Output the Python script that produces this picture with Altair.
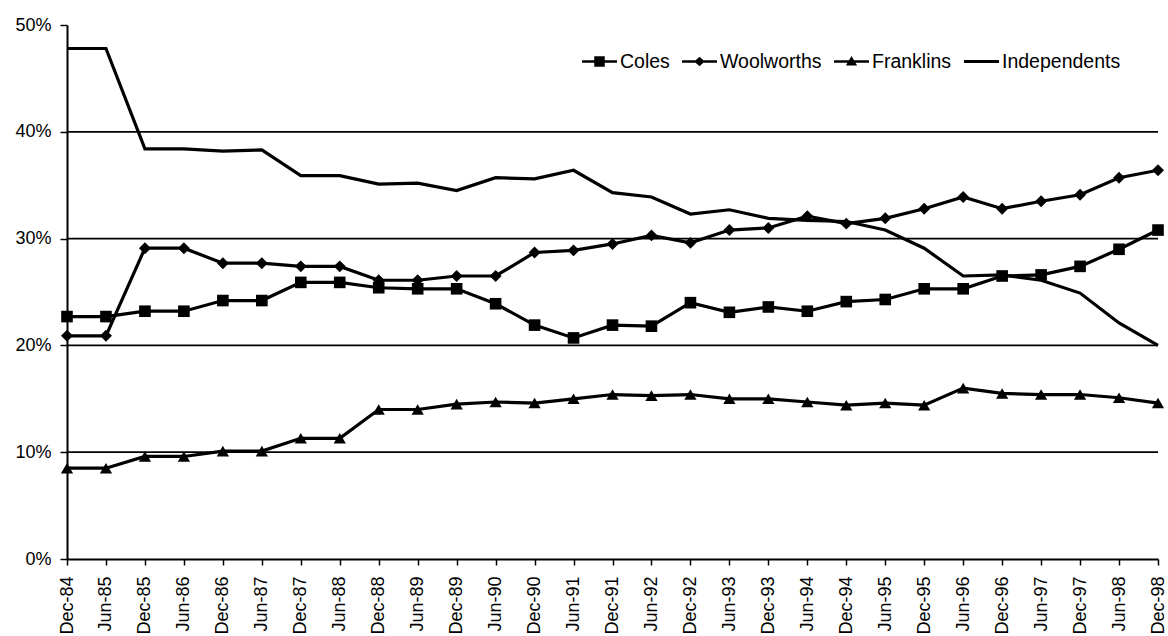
import altair as alt
import pandas as pd

months = ["Dec-84", "Jun-85", "Dec-85", "Jun-86", "Dec-86", "Jun-87", "Dec-87", "Jun-88",
          "Dec-88", "Jun-89", "Dec-89", "Jun-90", "Dec-90", "Jun-91", "Dec-91", "Jun-92",
          "Dec-92", "Jun-93", "Dec-93", "Jun-94", "Dec-94", "Jun-95", "Dec-95", "Jun-96",
          "Dec-96", "Jun-97", "Dec-97", "Jun-98", "Dec-98"]

coles = [22.7, 22.7, 23.2, 23.2, 24.2, 24.2, 25.9, 25.9, 25.4, 25.3, 25.3, 23.9, 21.9, 20.7,
         21.9, 21.8, 24.0, 23.1, 23.6, 23.2, 24.1, 24.3, 25.3, 25.3, 26.5, 26.6, 27.4, 29.0, 30.8]
woolworths = [20.9, 20.9, 29.1, 29.1, 27.7, 27.7, 27.4, 27.4, 26.1, 26.1, 26.5, 26.5, 28.7, 28.9,
              29.5, 30.3, 29.6, 30.8, 31.0, 32.1, 31.4, 31.9, 32.8, 33.9, 32.8, 33.5, 34.1, 35.7, 36.4]
franklins = [8.5, 8.5, 9.6, 9.6, 10.1, 10.1, 11.3, 11.3, 14.0, 14.0, 14.5, 14.7, 14.6, 15.0,
             15.4, 15.3, 15.4, 15.0, 15.0, 14.7, 14.4, 14.6, 14.4, 16.0, 15.5, 15.4, 15.4, 15.1, 14.6]
independents = [47.8, 47.8, 38.4, 38.4, 38.2, 38.3, 35.9, 35.9, 35.1, 35.2, 34.5, 35.7, 35.6, 36.4,
                34.3, 33.9, 32.3, 32.7, 31.9, 31.7, 31.6, 30.8, 29.1, 26.5, 26.6, 26.1, 24.9, 22.1, 20.0]

series_names = ["Coles", "Woolworths", "Franklins", "Independents"]
y_ticks = [0, 10, 20, 30, 40, 50]
grid_values = [10, 20, 30, 40]

rows = []
for name, vals in zip(series_names, [coles, woolworths, franklins, independents]):
    for m, v in zip(months, vals):
        rows.append({"month": m, "series": name, "share": v})
df = pd.DataFrame(rows)
grid_df = pd.DataFrame({"g": grid_values})

FONT = "Liberation Sans"

x_axis = alt.Axis(title=None, labelAngle=-90, labelFontSize=18, labelFont=FONT,
                  labelColor="black", tickColor="black", tickSize=6, tickWidth=1.5,
                  domainColor="black", domainWidth=2, labelPadding=11, grid=False,
                  labelBaseline="middle", labelAlign="right")
y_axis = alt.Axis(title=None, values=y_ticks, labelExpr="datum.value + '%'",
                  labelFontSize=18, labelFont=FONT, labelColor="black",
                  tickColor="black", tickSize=7, tickWidth=1.5, domainColor="black",
                  domainWidth=2, labelPadding=9, grid=False)
y_scale = alt.Scale(domain=[0, 50], nice=False)

grid = alt.Chart(grid_df).mark_rule(color="black", strokeWidth=1.8).encode(
    y=alt.Y("g:Q", scale=y_scale, axis=y_axis)
)

lines = alt.Chart(df).mark_line(color="black", strokeWidth=3.2).encode(
    x=alt.X("month:O", sort=months, scale=alt.Scale(padding=0), axis=x_axis),
    y=alt.Y("share:Q", scale=y_scale, axis=y_axis),
    detail="series:N",
)

points = alt.Chart(df).transform_filter(
    alt.datum.series != "Independents"
).mark_point(filled=True, color="black", opacity=1).encode(
    x=alt.X("month:O", sort=months),
    y=alt.Y("share:Q", scale=y_scale),
    shape=alt.Shape("series:N",
                    scale=alt.Scale(domain=series_names[:3],
                                    range=["square", "diamond", "triangle-up"]),
                    legend=None),
    size=alt.Size("series:N", scale=alt.Scale(domain=series_names[:3], range=[135, 150, 130]),
                  legend=None),
)

# legend-only layer: filled line bar + marker symbols
bar = "M-1,-0.075H1V0.075H-1Z"
sq = bar + "M-0.3,-0.3H0.3V0.3H-0.3Z"
dm = bar + "M-0.3,0L0,-0.27L0.3,0L0,0.27Z"
tr = bar + "M-0.32,0.23L0,-0.32L0.32,0.23Z"
ln = "M-1,-0.085H1V0.085H-1Z"

legend_layer = alt.Chart(df).transform_filter("false").mark_point(
    filled=True, color="black", opacity=1
).encode(
    x=alt.X("month:O", sort=months),
    y=alt.Y("share:Q", scale=y_scale),
    shape=alt.Shape("series:N",
                    scale=alt.Scale(domain=series_names, range=[sq, dm, tr, ln]),
                    legend=alt.Legend(title=None, orient="none", direction="horizontal",
                                      legendX=515, legendY=19, padding=0,
                                      symbolSize=1225, symbolStrokeWidth=0,
                                      symbolFillColor="black",
                                      symbolOpacity=1,
                                      labelFont=FONT, labelFontSize=19.5, labelColor="black",
                                      labelOffset=3, columnPadding=12)),
)

chart = alt.layer(grid, lines, points, legend_layer).resolve_scale(
    shape="independent", size="independent"
).resolve_legend(shape="independent").properties(
    width=1091, height=534,
    autosize=alt.AutoSizeParams(type="none"),
    padding={"left": 67, "top": 25, "right": 10, "bottom": 77},
    background="white",
).configure_view(stroke=None)

chart.save("out.html", embed_options={"renderer": "svg", "actions": False})
